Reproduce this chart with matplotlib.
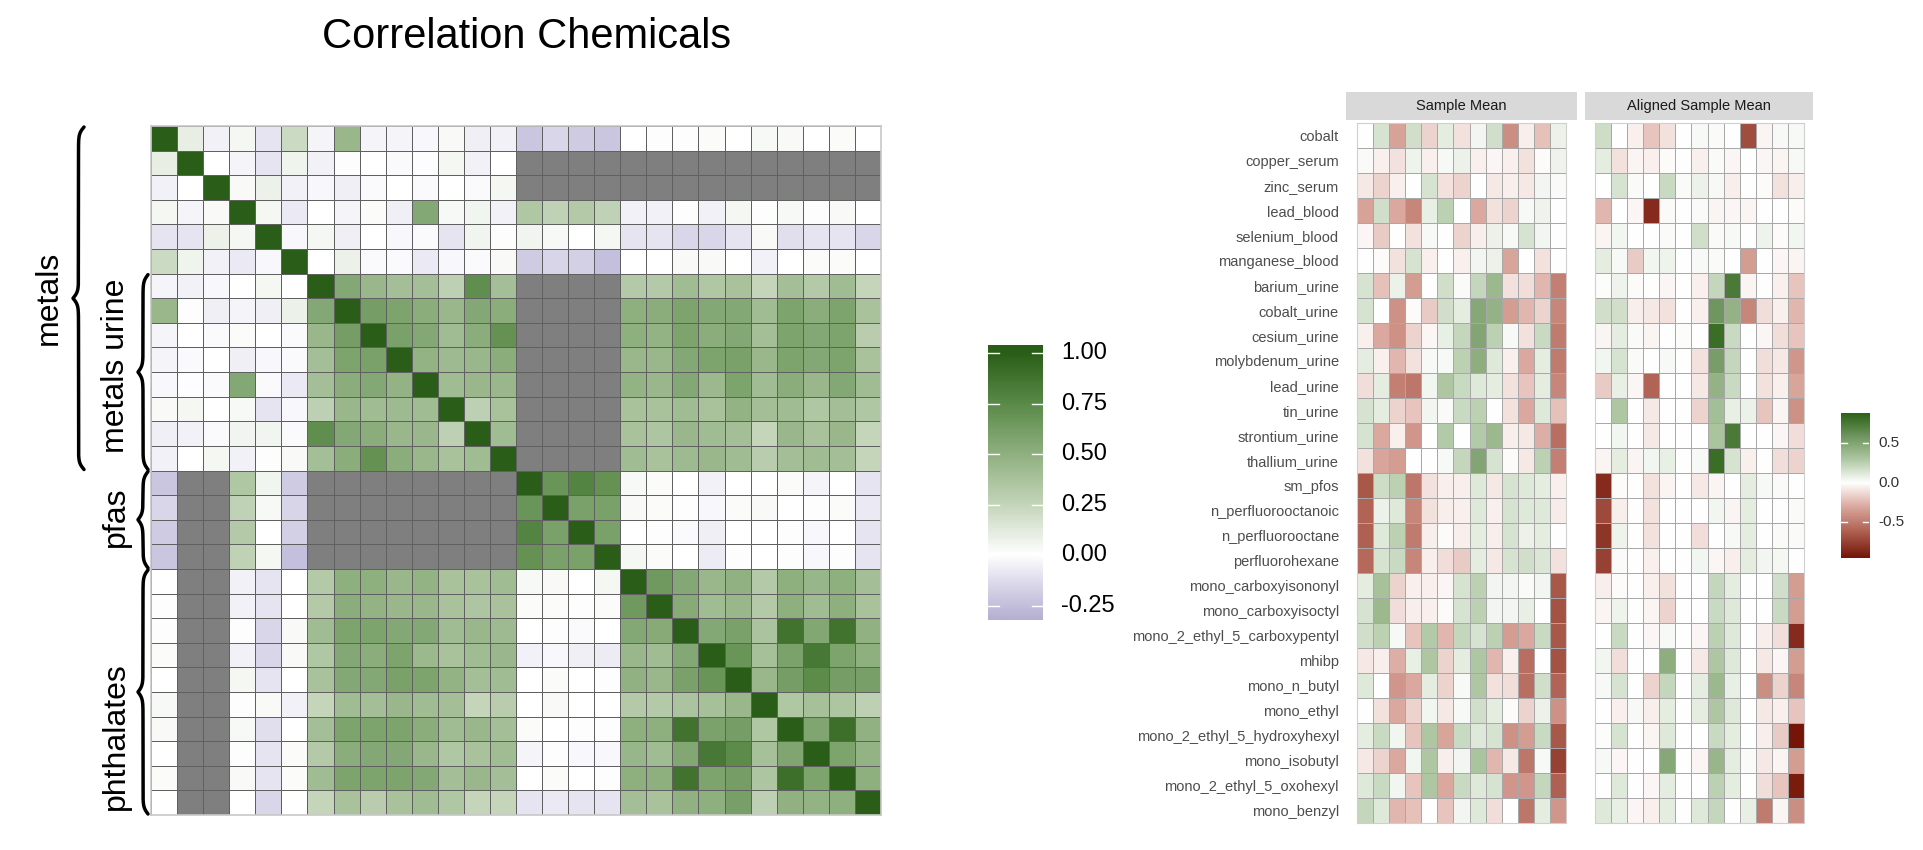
import numpy as np
import matplotlib
matplotlib.use('Agg')
import matplotlib.pyplot as plt
from matplotlib.colors import LinearSegmentedColormap, Normalize

plt.rcParams['font.family'] = ['Liberation Sans', 'DejaVu Sans']

W, H = 1924, 850
nan = np.nan

# ── data ────────────────────────────────────────────────────
chemicals = ['cobalt', 'copper_serum', 'zinc_serum', 'lead_blood', 'selenium_blood',
             'manganese_blood', 'barium_urine', 'cobalt_urine', 'cesium_urine',
             'molybdenum_urine', 'lead_urine', 'tin_urine', 'strontium_urine',
             'thallium_urine', 'sm_pfos', 'n_perfluorooctanoic', 'n_perfluorooctane',
             'perfluorohexane', 'mono_carboxyisononyl', 'mono_carboxyisoctyl',
             'mono_2_ethyl_5_carboxypentyl', 'mhibp', 'mono_n_butyl', 'mono_ethyl',
             'mono_2_ethyl_5_hydroxyhexyl', 'mono_isobutyl', 'mono_2_ethyl_5_oxohexyl',
             'mono_benzyl']

groups = ['metals', 'metals urine', 'pfas', 'phthalates']
group_first = [0, 6, 14, 18]
group_last = [13, 13, 17, 27]

# lower triangle of the correlation matrix (row i, columns 0..i-1), nan = not available
N8 = [nan] * 8
corr_lower = [
    [],
    [0.10],
    [-0.05, 0.00],
    [0.05, -0.04, 0.03],
    [-0.10, -0.10, 0.08, 0.05],
    [0.22, 0.07, -0.05, -0.08, -0.03],
    [-0.04, -0.05, -0.03, 0.00, 0.05, 0.00],
    [0.45, 0.01, -0.06, -0.04, -0.06, 0.08, 0.55],
    [-0.04, 0.00, -0.02, 0.02, 0.00, -0.02, 0.45, 0.62],
    [-0.04, -0.02, 0.00, -0.06, -0.03, -0.02, 0.40, 0.58, 0.60],
    [-0.03, -0.01, -0.02, 0.55, -0.02, -0.08, 0.40, 0.52, 0.55, 0.48],
    [0.03, 0.05, 0.00, 0.04, -0.10, -0.03, 0.28, 0.45, 0.42, 0.43, 0.42],
    [-0.06, -0.05, -0.02, 0.06, 0.06, -0.02, 0.72, 0.55, 0.52, 0.45, 0.45, 0.28],
    [-0.05, 0.00, 0.05, -0.05, 0.01, 0.03, 0.40, 0.52, 0.70, 0.52, 0.45, 0.38, 0.42],
    [-0.22, nan, nan, 0.35, 0.06, -0.20] + N8,
    [-0.15, nan, nan, 0.27, 0.04, -0.16] + N8 + [0.68],
    [-0.20, nan, nan, 0.33, 0.00, -0.18] + N8 + [0.78, 0.60],
    [-0.22, nan, nan, 0.27, 0.05, -0.25] + N8 + [0.70, 0.60, 0.60],
    [0.00, nan, nan, -0.05, -0.10, 0.00, 0.33, 0.50, 0.50, 0.45, 0.48, 0.38, 0.38, 0.42,
     0.04, 0.03, 0.00, 0.05],
    [0.01, nan, nan, -0.05, -0.10, 0.00, 0.33, 0.52, 0.48, 0.45, 0.45, 0.38, 0.36, 0.38,
     0.02, 0.02, 0.01, 0.02, 0.65],
    [0.01, nan, nan, 0.01, -0.15, 0.03, 0.42, 0.58, 0.58, 0.55, 0.55, 0.42, 0.45, 0.43,
     0.00, 0.01, -0.02, 0.00, 0.55, 0.54],
    [0.02, nan, nan, -0.05, -0.15, 0.03, 0.35, 0.55, 0.52, 0.58, 0.44, 0.38, 0.42, 0.45,
     -0.05, -0.03, -0.06, -0.07, 0.45, 0.42, 0.55],
    [0.00, nan, nan, 0.05, -0.10, 0.00, 0.38, 0.55, 0.55, 0.60, 0.58, 0.48, 0.40, 0.42,
     0.00, 0.02, 0.00, 0.01, 0.49, 0.45, 0.60, 0.68],
    [0.04, nan, nan, 0.01, 0.03, -0.05, 0.25, 0.42, 0.40, 0.45, 0.42, 0.40, 0.25, 0.30,
     0.00, 0.03, 0.00, 0.00, 0.33, 0.33, 0.37, 0.39, 0.45],
    [0.03, nan, nan, 0.04, -0.12, 0.00, 0.40, 0.58, 0.58, 0.58, 0.52, 0.42, 0.45, 0.40,
     0.02, 0.00, 0.01, 0.01, 0.50, 0.50, 0.88, 0.59, 0.62, 0.35],
    [0.00, nan, nan, 0.01, -0.10, 0.02, 0.33, 0.52, 0.55, 0.55, 0.45, 0.35, 0.38, 0.42,
     -0.04, 0.01, -0.03, -0.03, 0.46, 0.42, 0.56, 0.85, 0.74, 0.39, 0.57],
    [0.02, nan, nan, 0.03, -0.10, 0.02, 0.42, 0.58, 0.58, 0.58, 0.55, 0.40, 0.45, 0.40,
     0.00, 0.02, 0.00, 0.01, 0.50, 0.50, 0.88, 0.58, 0.62, 0.36, 0.90, 0.58],
    [0.00, nan, nan, 0.00, -0.15, 0.00, 0.25, 0.38, 0.30, 0.38, 0.42, 0.35, 0.25, 0.25,
     -0.10, -0.08, -0.10, -0.10, 0.40, 0.38, 0.49, 0.50, 0.61, 0.28, 0.49, 0.48, 0.50],
]

sample_mean = [
    [0.00, 0.15, -0.33, 0.17, -0.15, 0.10, -0.10, 0.05, 0.17, -0.42, -0.06, -0.22, 0.07],
    [0.02, -0.05, -0.10, 0.06, -0.05, 0.03, 0.07, -0.05, -0.03, -0.05, -0.10, -0.02, 0.06],
    [-0.08, -0.15, -0.05, 0.00, 0.15, -0.10, -0.15, 0.00, -0.08, -0.06, -0.08, 0.05, 0.02],
    [-0.33, 0.17, -0.30, -0.45, 0.08, 0.25, 0.00, -0.30, -0.10, -0.15, 0.03, 0.06, 0.00],
    [-0.03, -0.18, 0.00, -0.10, 0.03, 0.00, -0.15, -0.06, 0.07, 0.03, 0.15, 0.05, 0.00],
    [0.00, -0.02, -0.10, 0.15, -0.05, 0.00, -0.05, 0.05, 0.07, -0.32, 0.00, -0.10, 0.00],
    [0.15, -0.22, 0.07, -0.35, 0.00, 0.17, 0.02, 0.22, 0.38, -0.10, -0.12, -0.25, -0.48],
    [0.15, 0.00, -0.40, -0.02, -0.18, 0.17, 0.10, 0.48, 0.42, -0.35, -0.25, -0.15, -0.45],
    [-0.05, -0.30, -0.40, -0.15, -0.03, 0.08, 0.22, 0.50, 0.25, 0.03, -0.10, 0.20, -0.50],
    [0.10, -0.05, -0.25, -0.10, 0.03, 0.03, 0.25, 0.45, 0.12, -0.05, -0.30, 0.10, -0.50],
    [-0.12, 0.10, -0.48, -0.52, 0.05, 0.30, 0.20, 0.12, 0.10, -0.10, -0.20, 0.10, -0.45],
    [0.15, 0.10, -0.15, -0.20, 0.05, 0.02, 0.20, 0.25, 0.00, -0.10, -0.30, 0.12, -0.22],
    [0.15, -0.30, -0.05, -0.38, 0.00, 0.28, 0.00, 0.28, 0.38, -0.06, -0.08, -0.28, -0.55],
    [-0.10, -0.32, -0.35, 0.00, 0.00, 0.03, 0.22, 0.50, 0.15, -0.02, -0.08, 0.25, -0.48],
    [-0.65, 0.18, 0.25, -0.52, -0.10, -0.05, -0.06, 0.12, -0.08, 0.15, 0.12, 0.10, -0.05],
    [-0.60, 0.07, 0.12, -0.45, -0.10, -0.06, -0.05, 0.12, -0.05, 0.15, 0.12, 0.12, -0.07],
    [-0.62, 0.12, 0.25, -0.50, -0.06, -0.02, -0.06, 0.10, -0.06, 0.15, 0.07, 0.10, 0.00],
    [-0.58, 0.15, 0.20, -0.45, -0.06, -0.12, -0.18, 0.10, -0.08, 0.15, 0.17, 0.13, -0.10],
    [0.10, 0.33, -0.15, -0.05, -0.05, -0.03, 0.15, 0.25, 0.05, 0.05, 0.02, 0.05, -0.65],
    [0.15, 0.38, -0.12, -0.06, -0.05, -0.02, 0.15, 0.25, 0.05, 0.05, 0.08, 0.00, -0.68],
    [0.17, 0.25, 0.03, -0.20, 0.28, -0.25, 0.22, 0.15, 0.25, -0.35, -0.30, 0.20, -0.65],
    [-0.08, -0.06, -0.28, 0.08, 0.30, -0.15, 0.10, 0.30, -0.25, -0.05, -0.55, 0.00, -0.68],
    [0.12, 0.00, -0.38, -0.30, 0.10, -0.15, 0.03, 0.30, -0.10, -0.12, -0.55, 0.17, -0.60],
    [0.00, -0.10, -0.30, -0.15, 0.05, -0.08, 0.03, 0.17, 0.10, -0.02, -0.15, 0.07, -0.40],
    [0.10, 0.20, 0.05, -0.20, 0.30, -0.32, 0.20, 0.12, 0.15, -0.40, -0.35, 0.20, -0.65],
    [-0.08, -0.15, -0.30, 0.05, 0.30, -0.06, 0.05, 0.32, -0.25, -0.08, -0.52, 0.03, -0.75],
    [0.12, 0.20, 0.05, -0.20, 0.30, -0.30, 0.20, 0.12, 0.15, -0.38, -0.38, 0.22, -0.62],
    [0.22, 0.12, -0.25, -0.22, 0.00, -0.20, 0.05, 0.12, -0.12, 0.00, -0.52, 0.10, -0.38],
]

aligned_mean = [
    [0.18, 0.00, -0.05, -0.20, -0.10, 0.00, 0.03, 0.02, 0.00, -0.70, -0.04, 0.03, 0.03],
    [0.10, -0.10, -0.04, -0.05, -0.02, 0.00, -0.05, 0.02, -0.03, 0.00, -0.03, -0.04, 0.03],
    [0.00, 0.15, 0.02, 0.00, 0.20, 0.02, 0.07, 0.03, -0.06, 0.00, -0.02, -0.10, -0.06],
    [-0.25, 0.00, -0.03, -0.85, 0.02, 0.00, 0.02, -0.04, -0.03, -0.04, 0.00, 0.00, -0.02],
    [-0.04, 0.05, 0.00, 0.00, 0.02, 0.00, 0.17, 0.02, 0.03, 0.00, 0.06, -0.02, 0.05],
    [0.10, 0.03, -0.18, 0.05, 0.06, 0.00, 0.03, 0.02, 0.00, -0.35, 0.00, -0.03, -0.04],
    [0.01, 0.06, -0.02, 0.00, -0.03, 0.00, -0.05, 0.22, 0.75, -0.04, 0.00, -0.05, -0.20],
    [0.17, 0.17, -0.06, -0.08, -0.10, 0.00, -0.05, 0.58, 0.42, -0.45, -0.12, -0.05, -0.25],
    [-0.04, 0.10, 0.02, -0.04, 0.00, 0.01, 0.00, 0.82, 0.20, 0.00, -0.03, -0.12, -0.20],
    [0.05, 0.15, 0.02, 0.00, 0.03, 0.00, -0.10, 0.55, 0.22, 0.00, -0.12, -0.08, -0.38],
    [-0.18, 0.08, -0.03, -0.60, 0.00, 0.00, -0.08, 0.42, 0.20, 0.00, -0.10, -0.05, -0.32],
    [0.00, 0.30, 0.00, -0.08, 0.00, 0.00, -0.15, 0.35, 0.08, 0.07, -0.20, -0.04, -0.40],
    [0.00, 0.05, 0.00, -0.08, 0.00, 0.00, 0.00, 0.32, 0.75, 0.00, 0.00, -0.03, -0.12],
    [-0.04, 0.10, -0.04, 0.05, 0.08, 0.00, 0.03, 0.82, 0.15, -0.05, 0.00, -0.12, -0.15],
    [-0.85, -0.02, 0.00, -0.10, -0.04, 0.00, -0.08, -0.04, 0.00, 0.10, 0.03, 0.02, 0.00],
    [-0.72, -0.06, 0.00, -0.10, 0.00, 0.00, 0.00, 0.05, -0.04, 0.10, 0.00, 0.00, 0.02],
    [-0.80, 0.06, 0.00, -0.10, 0.00, 0.00, -0.12, 0.00, 0.03, 0.10, 0.00, 0.02, 0.02],
    [-0.75, 0.02, 0.00, -0.05, 0.00, 0.00, 0.05, -0.03, -0.06, 0.10, 0.05, 0.04, 0.00],
    [-0.06, -0.02, 0.00, -0.05, -0.10, 0.00, 0.00, 0.22, 0.10, 0.00, 0.00, 0.17, -0.35],
    [-0.04, 0.06, 0.00, -0.04, -0.15, 0.00, 0.00, 0.20, 0.12, 0.00, 0.00, 0.20, -0.35],
    [0.00, 0.20, 0.00, -0.03, 0.03, 0.00, -0.03, 0.25, 0.12, 0.00, -0.06, -0.12, -0.85],
    [0.05, -0.12, 0.00, 0.00, 0.45, 0.00, -0.08, 0.30, 0.12, 0.00, -0.08, -0.03, -0.35],
    [0.03, 0.15, 0.00, -0.15, 0.22, 0.00, 0.10, 0.38, 0.08, 0.00, -0.42, -0.15, -0.45],
    [0.00, -0.05, 0.03, -0.06, 0.10, 0.00, 0.10, 0.30, 0.12, 0.00, -0.08, -0.05, -0.20],
    [0.01, 0.15, 0.00, -0.04, 0.12, 0.00, 0.00, 0.20, 0.10, 0.00, -0.06, -0.18, -0.95],
    [0.03, -0.03, 0.00, 0.00, 0.48, 0.00, -0.04, 0.40, 0.10, 0.02, -0.08, -0.04, -0.35],
    [0.00, 0.12, 0.00, -0.03, 0.10, 0.00, 0.00, 0.25, 0.10, 0.00, -0.12, -0.20, -0.92],
    [0.12, 0.08, -0.03, -0.05, 0.10, 0.00, 0.12, 0.22, 0.00, 0.08, -0.50, -0.04, -0.42],
]

panel_titles = ['Sample Mean', 'Aligned Sample Mean']

corr_ticks = [-0.25, 0.00, 0.25, 0.50, 0.75, 1.00]
mean_ticks = [-0.5, 0.0, 0.5]


# ── helpers ────────────────────────────────────────────────
def value_cmap(stops, vmin, vmax, name):
    pos = [(v - vmin) / (vmax - vmin) for v, _ in stops]
    return LinearSegmentedColormap.from_list(name, list(zip(pos, [c for _, c in stops])))


def px_axes(fig, x0, y0, x1, y1):
    return fig.add_axes([x0 / W, 1 - y1 / H, (x1 - x0) / W, (y1 - y0) / H])


def brace(ax, x_end, y0, y1, depth, beta=0.3, lw=2.5):
    s = np.linspace(0, (y1 - y0) / 2, 300)
    half = 1 / (1 + np.exp(-beta * (s - s[0]))) + 1 / (1 + np.exp(-beta * (s - s[-1])))
    prof = np.concatenate([half, half[::-1]])
    ys = np.concatenate([y0 + s, y0 + (y1 - y0) / 2 + s])
    xs = x_end - (prof - 0.5) * depth
    ax.plot(xs, ys, color='black', lw=lw, solid_capstyle='round')


def draw_bar(ax, cmap, norm, lo, hi, ticks, labels, fs, label_x, color):
    grad = np.linspace(lo, hi, 300)[:, None]
    ax.imshow(grad, extent=[0, 1, lo, hi], origin='lower', aspect='auto', cmap=cmap, norm=norm)
    for t in ticks:
        ax.plot([0, 0.2], [t, t], color='white', lw=1.0)
        ax.plot([0.8, 1], [t, t], color='white', lw=1.0)
    for t, lab in zip(ticks, labels):
        ax.text(label_x, t, lab, ha='left', va='center', fontsize=fs, color=color,
                transform=ax.get_yaxis_transform())
    ax.set_xlim(0, 1)
    ax.set_ylim(lo, hi)
    ax.axis('off')


# ── build matrix ───────────────────────────────────────────
n = len(chemicals)
M = np.eye(n)
for i, row in enumerate(corr_lower):
    for j, v in enumerate(row):
        M[i, j] = v
        M[j, i] = v

corr_cmap = value_cmap([(-0.32, '#b5afd2'), (-0.15, '#dad7ea'), (0.0, '#ffffff'),
                        (0.25, '#c4d5ba'), (0.5, '#8fb080'), (0.75, '#5a8a48'),
                        (1.0, '#2a5e18')], -0.32, 1.0, 'corr')
corr_cmap.set_bad('#7f7f7f')
corr_norm = Normalize(-0.32, 1.0)

mean_cmap = value_cmap([(-0.95, '#741507'), (-0.6, '#b26556'), (-0.3, '#dba99f'),
                        (0.0, '#ffffff'), (0.3, '#aec7a2'), (0.6, '#6d945d'),
                        (0.88, '#2d6318')], -0.95, 0.88, 'mean')
mean_norm = Normalize(-0.95, 0.88)

# ── figure ─────────────────────────────────────────────────
fig = plt.figure(figsize=(W / 100, H / 100), dpi=100)

ov = fig.add_axes([0, 0, 1, 1])
ov.set_xlim(0, W)
ov.set_ylim(H, 0)
ov.axis('off')

# correlation heatmap
ax = px_axes(fig, 151, 126, 881, 815)
ax.pcolormesh(np.ma.masked_invalid(M), cmap=corr_cmap, norm=corr_norm,
              edgecolors='#606060', linewidth=0.7)
ax.set_xlim(0, n)
ax.set_ylim(n, 0)
ax.set_xticks([])
ax.set_yticks([])
for sp in ax.spines.values():
    sp.set_color('#c8c8c8')
    sp.set_linewidth(1.2)

ov.text(527, 48, 'Correlation Chemicals', ha='center', va='baseline', fontsize=30)

# group braces and labels
top, row_h = 126, 689 / n
brace_x = [84, 148, 148, 148]
brace_d = [11, 10, 10, 10]
label_x = [49, 116, 116, 116]
label_y = [298, 366, 517, 736]
for g, a, b, bx, bd, lx, ly in zip(groups, group_first, group_last, brace_x, brace_d,
                                    label_x, label_y):
    y0, y1 = top + a * row_h, top + (b + 1) * row_h
    brace(ov, bx, y0 + 1, y1 - 1, bd)
    ov.text(lx, ly, g, rotation=90, ha='center', va='center', fontsize=23)

# correlation colour bar
cb = px_axes(fig, 988, 345, 1043, 620)
draw_bar(cb, corr_cmap, corr_norm, -0.32, 1.04, corr_ticks,
         [f'{t:.2f}' for t in corr_ticks], 17, 1.33, 'black')

# sample mean panels
panels = [np.array(sample_mean), np.array(aligned_mean)]
strip_x = [(1346, 1577), (1585, 1813)]
cell_x = [(1357, 1566), (1595, 1804)]
for k, (data, title) in enumerate(zip(panels, panel_titles)):
    st = px_axes(fig, strip_x[k][0], 92, strip_x[k][1], 120)
    st.set_facecolor('#d9d9d9')
    st.set_xticks([])
    st.set_yticks([])
    for sp in st.spines.values():
        sp.set_visible(False)
    st.text(0.5, 0.5, title, ha='center', va='center', fontsize=10.5, color='#1a1a1a',
            transform=st.transAxes)

    hx = px_axes(fig, cell_x[k][0], 123, cell_x[k][1], 823)
    hx.pcolormesh(data, cmap=mean_cmap, norm=mean_norm, edgecolors='#a8a8a8', linewidth=0.6)
    hx.set_xlim(0, data.shape[1])
    hx.set_ylim(data.shape[0], 0)
    hx.set_xticks([])
    if k == 0:
        hx.set_yticks(np.arange(n) + 0.5)
        hx.set_yticklabels(chemicals, fontsize=10.5, color='#4d4d4d')
        hx.tick_params(axis='y', length=0, pad=13)
    else:
        hx.set_yticks([])
    for sp in hx.spines.values():
        sp.set_color('#cfcfcf')
        sp.set_linewidth(0.8)

cb2 = px_axes(fig, 1841, 413, 1869, 558)
draw_bar(cb2, mean_cmap, mean_norm, -0.95, 0.88, mean_ticks,
         [f'{t:.1f}' for t in mean_ticks], 11, 1.32, '#333333')

fig.savefig('out.png', dpi=100)
